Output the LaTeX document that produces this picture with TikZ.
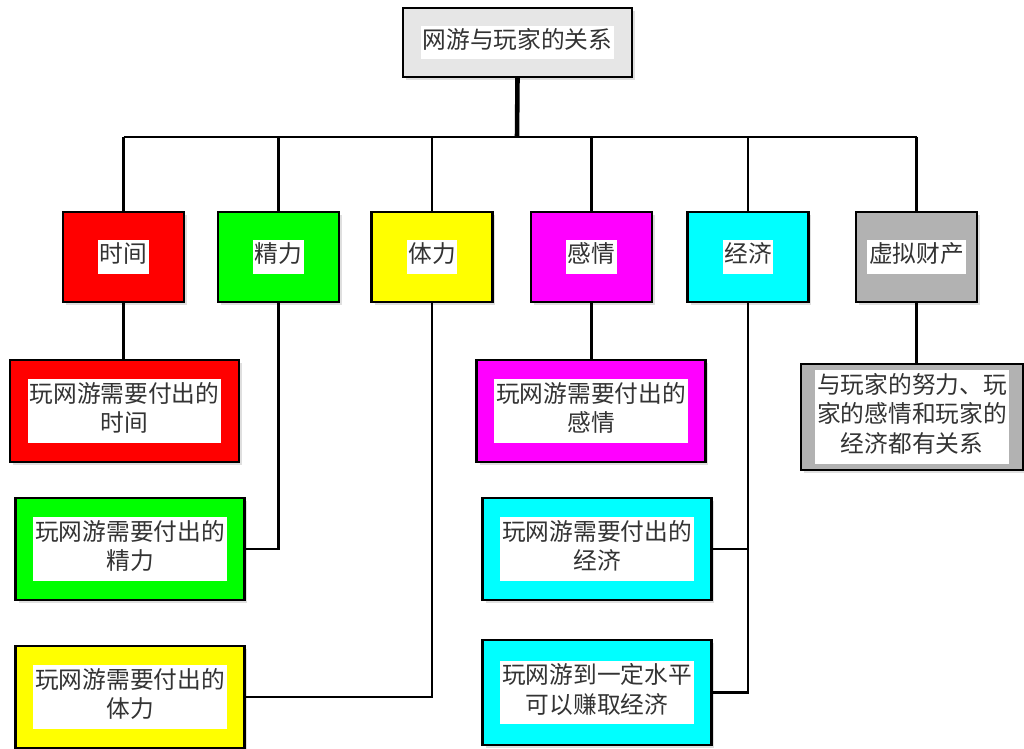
\documentclass[tikz,border=0pt]{standalone}
\usepackage{fontspec}
\newfontfamily\cjk{Noto Sans CJK SC}
\usetikzlibrary{shadows}
\tikzset{>=latex}
\definecolor{rootgray}{RGB}{230,230,230}
\definecolor{virtgray}{RGB}{178,178,178}
\definecolor{cred}{RGB}{255,0,0}
\definecolor{cgreen}{RGB}{0,255,0}
\definecolor{cyellow}{RGB}{255,255,0}
\definecolor{cmagenta}{RGB}{255,0,255}
\definecolor{ccyan}{RGB}{0,255,255}
\newcommand{\wlabel}[1]{{\setlength{\fboxsep}{1pt}\colorbox{white}{\begin{tabular}{@{}c@{}}#1\end{tabular}}}}

\begin{document}
\begin{tikzpicture}[x=0.02cm, y=-0.02cm,
  box/.style={draw=black, line width=1.3pt, inner sep=0pt,
    font=\cjk\fontsize{13.5}{17}\selectfont, text=black!80,
    drop shadow={shadow xshift=0.06cm, shadow yshift=-0.06cm, fill=black!25}},
  top/.style={box, minimum width=2.42cm, minimum height=1.8cm},
  leaf/.style={box, minimum width=4.58cm, minimum height=2.04cm},
  link/.style={line width=1.4pt},
  trunk/.style={line width=2.6pt}]
\useasboundingbox (0,0) rectangle (1024,749);

% root
\node[box, fill=rootgray, minimum width=4.58cm, minimum height=1.38cm] (root) at (517.5,42.5) {\wlabel{网游与玩家的关系}};
\coordinate (bus) at (517,137);

% second row
\node[top, fill=cred]       (time)   at (123.5,257) {\wlabel{时间}};
\node[top, fill=cgreen]     (energy) at (278.5,257) {\wlabel{精力}};
\node[top, fill=cyellow]    (phys)   at (432,257)   {\wlabel{体力}};
\node[top, fill=cmagenta]   (emo)    at (591.5,257) {\wlabel{感情}};
\node[top, fill=ccyan]      (econ)   at (748,257)   {\wlabel{经济}};
\node[top, fill=virtgray]   (virt)   at (916.5,257) {\wlabel{虚拟财产}};

% leaves
\node[leaf, fill=cred]     (tbox)  at (124.5,411) {\wlabel{玩网游需要付出的\\时间}};
\node[leaf, fill=cgreen]   (ebox)  at (130,549)   {\wlabel{玩网游需要付出的\\精力}};
\node[leaf, fill=cyellow]  (pbox)  at (130,697)   {\wlabel{玩网游需要付出的\\体力}};
\node[leaf, fill=cmagenta] (mbox)  at (591,411)   {\wlabel{玩网游需要付出的\\感情}};
\node[leaf, fill=ccyan]    (cbox)  at (597,549)   {\wlabel{玩网游需要付出的\\经济}};
\node[leaf, fill=ccyan, minimum height=2.1cm] (gbox) at (597,692.5) {\wlabel{玩网游到一定水平\\可以赚取经济}};
\node[leaf, fill=virtgray, minimum width=4.44cm, minimum height=2.12cm] (vbox) at (912,417) {\wlabel{与玩家的努力、玩\\家的感情和玩家的\\经济都有关系}};

% connectors
\draw[trunk] (root.south) -- (bus);
\draw[link] (bus -| time.north) -- (bus -| virt.north);
\foreach \n in {time, energy, phys, emo, econ, virt}
  \draw[link] (bus -| \n.north) -- (\n.north);
\draw[link] (time.south) -- (time.south |- tbox.north);
\draw[link] (energy.south) |- (ebox.east);
\draw[link] (phys.south) |- (pbox.east);
\draw[link] (emo.south) -- (emo.south |- mbox.north);
\draw[link] (econ.south) |- (cbox.east);
\draw[link] (econ.south) |- (gbox.east);
\draw[link] (virt.south) -- (virt.south |- vbox.north);
\end{tikzpicture}
\end{document}
